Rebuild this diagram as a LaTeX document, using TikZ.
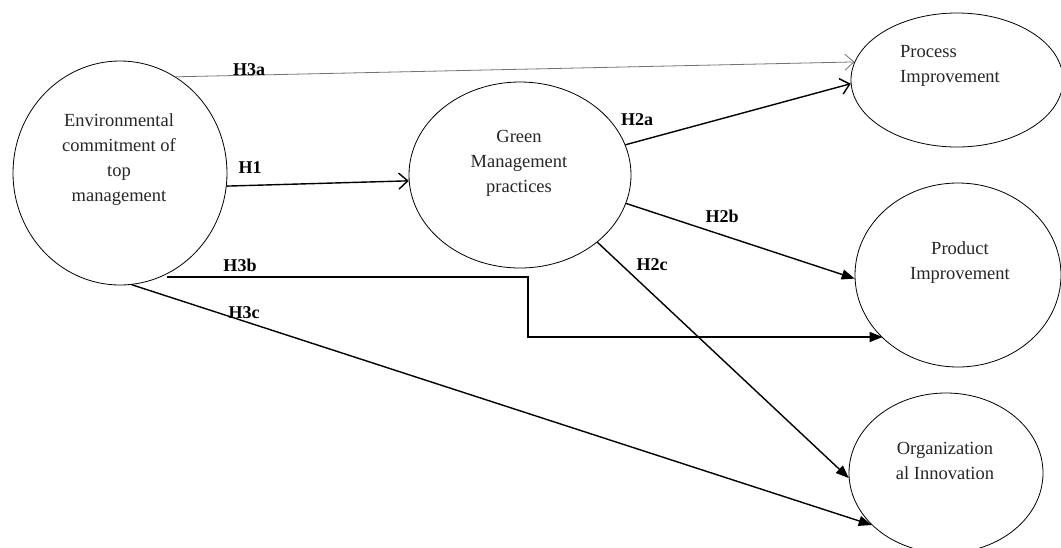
\documentclass[tikz,border=0pt]{standalone}
\usepackage{fontspec}
\setmainfont{Liberation Serif}
\usetikzlibrary{shapes.geometric,arrows.meta}
\begin{document}
\begin{tikzpicture}[x=1pt,y=-1pt,
  construct/.style={ellipse,draw,line width=0.8pt,inner sep=0pt},
  txt/.style={font=\fontsize{18.5}{25}\selectfont,align=center,inner sep=0pt,text=black!85},
  lbl/.style={font=\fontsize{18}{20}\selectfont\bfseries,inner sep=0pt},
  link/.style={line width=1.4pt,-{Triangle[length=13pt,width=10pt]}},
  openlink/.style={line width=1.4pt,-{Straight Barb[length=9pt,width=16pt,line width=1.4pt]}},
  thinlink/.style={line width=0.8pt,draw=black!55,-{Straight Barb[length=9pt,width=16pt,line width=0.8pt]}}]
\useasboundingbox (0,0) rectangle (1061,547);
\begin{scope}
\clip (0,0) rectangle (1061,547);
\node[construct,minimum width=214pt,minimum height=224pt] (env) at (120,173) {};
\node[construct,minimum width=222pt,minimum height=186pt] (gmp) at (520,175) {};
\node[construct,minimum width=212pt,minimum height=134pt] (proc) at (957,80) {};
\node[construct,minimum width=206pt,minimum height=184pt] (prod) at (958,275) {};
\node[construct,minimum width=194pt,minimum height=160pt] (org) at (946,473) {};
\end{scope}
\node[txt] (envt) at (119,160) {Environmental\\commitment of\\top\\management};
\node[txt] (gmpt) at (519,163) {Green\\Management\\practices};
\node[txt,align=left,anchor=west] (proct) at (900,66) {Process\\Improvement};
\node[txt] (prodt) at (960,263) {Product\\Improvement};
\node[txt] (orgt) at (945,461) {Organization\\al Innovation};
\coordinate (b1) at (528,277);
\coordinate (b2) at (528,337);
\draw[thinlink] (env.60) -- (proc.170);
\draw[openlink] (env.-7) -- (gmp.183);
\draw[openlink] (gmp.16) -- (proc.182);
\draw[link] (gmp.-15) -- (prod.182);
\draw[link] (gmp.-41) -- (org.183);
\draw[link] (env.-65 |- b1) -- (b1) -- (b2) -- (b2 -| prod.-140);
\draw[link] (env.-84) -- (org.-145);
\node[lbl] (h3a) at (249,70) {H3a};
\node[lbl] (h1) at (250,168) {H1};
\node[lbl] (h2a) at (637,120) {H2a};
\node[lbl] (h2b) at (722,216) {H2b};
\node[lbl] (h3b) at (240,265) {H3b};
\node[lbl] (h3c) at (244,313) {H3c};
\node[lbl] (h2c) at (652,265) {H2c};
\end{tikzpicture}
\end{document}
